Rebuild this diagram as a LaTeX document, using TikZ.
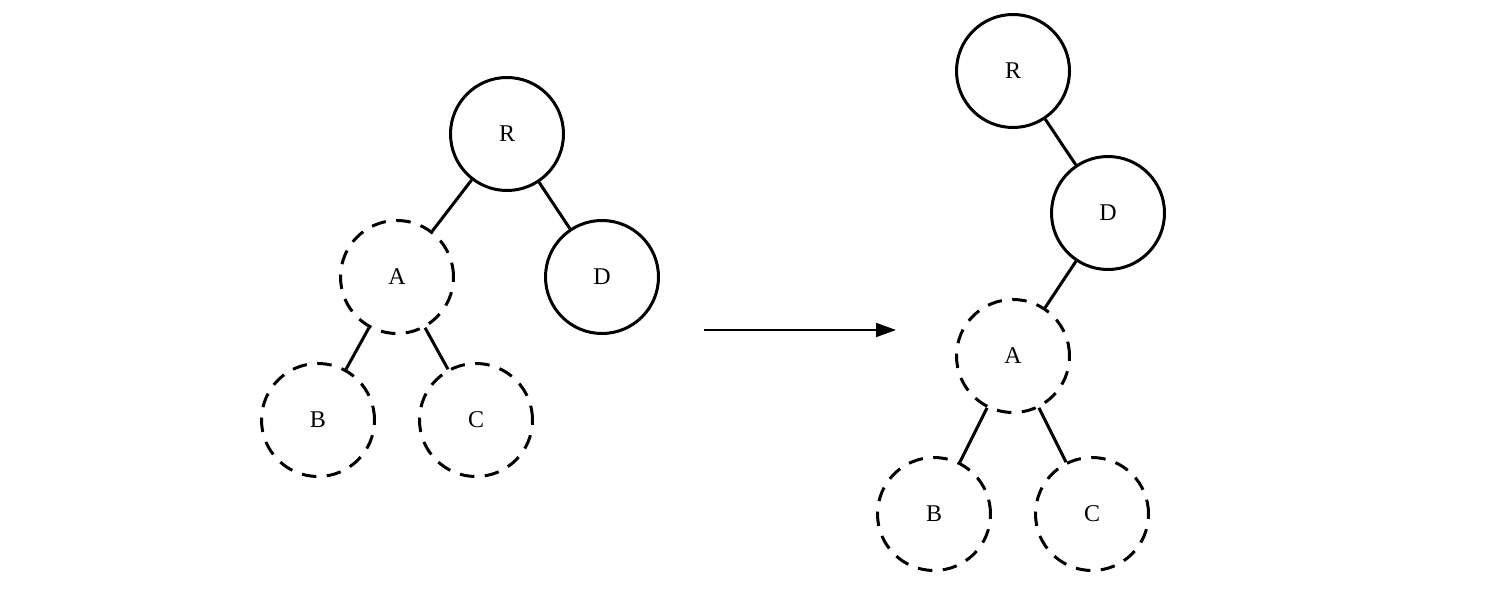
\documentclass[tikz,border=0pt]{standalone}
\usepackage{fontspec}
\setmainfont{Liberation Serif}
\usetikzlibrary{arrows.meta}
\begin{document}
\begin{tikzpicture}[x=1pt,y=-1pt,
  nd/.style={circle,draw,line width=3pt,minimum size=113pt,inner sep=0pt,font=\fontsize{24}{28}\selectfont},
  dnd/.style={nd,dash pattern=on 14.5pt off 10.5pt},
  edge/.style={line width=3pt},
  arr/.style={line width=1.8pt,-{Triangle[length=20pt,width=14pt]}}]
\useasboundingbox (0,0) rectangle (1486,596);
% left tree
\node[nd]  (lR) at (507,134) {R};
\node[dnd] (lA) at (397,277) {A};
\node[nd]  (lD) at (602,277) {D};
\node[dnd] (lB) at (318,420) {B};
\node[dnd] (lC) at (476,420) {C};
\draw[edge] (lR) -- (lA);
\draw[edge] (lR) -- (lD);
\draw[edge] (lA) -- (lB);
\draw[edge] (lA) -- (lC);
% arrow
\coordinate (s) at (704,330);
\coordinate (t) at (896,330);
\draw[arr] (s) -- (t);
% right tree
\node[nd]  (rR) at (1013,71) {R};
\node[nd]  (rD) at (1108,213) {D};
\node[dnd] (rA) at (1013,356) {A};
\node[dnd] (rB) at (934,514) {B};
\node[dnd] (rC) at (1092,514) {C};
\draw[edge] (rR) -- (rD);
\draw[edge] (rD) -- (rA);
\draw[edge] (rA) -- (rB);
\draw[edge] (rA) -- (rC);
\end{tikzpicture}
\end{document}
